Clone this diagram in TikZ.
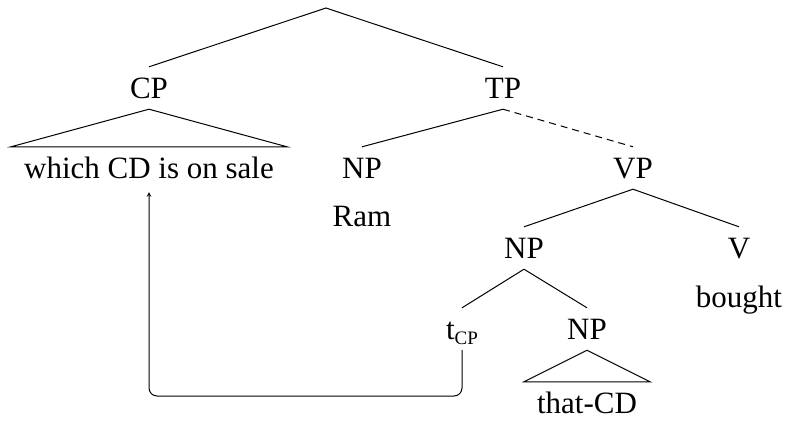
\documentclass[tikz,border=0pt]{standalone}
\usepackage{fontspec}
\setmainfont{Liberation Serif}
\usetikzlibrary{arrows}
\tikzstyle{cat} = [inner xsep=2pt, inner ysep=11pt, text height=20pt, text depth=0pt, font=\fontsize{31}{36}\selectfont]
\tikzstyle{roof} = [cat, inner xsep=13pt]
\tikzstyle{branch} = [line width=1pt]
\tikzstyle{arrow} = [line width=1pt,->,>=stealth, rounded corners=8pt, shorten >=3pt]

\begin{document}
\begin{tikzpicture}[x=1pt, y=-1pt, node distance=80pt]
\useasboundingbox (0,0) rectangle (787,423);

%% NODES

\coordinate (root) at (326,8);
\node (cp) [cat] at (149,88) {CP};
\node (tp) [cat, right of=cp, node distance=354pt] {TP};
\node (which) [roof, below of=cp] {which CD is on sale};
\node (np1) [cat, right of=which, node distance=213pt] {NP};
\node (ram) [cat, below of=np1, node distance=48pt] {Ram};
\node (vp) [cat, right of=np1, node distance=271pt] {VP};
\node (np2) [cat] at (524,248) {NP};
\node (v) [cat, right of=np2, node distance=215pt] {V};
\node (bought) [cat, below of=v, node distance=49pt] {bought};
\node (tcp) [cat] at (462,329) {t\raisebox{-5pt}{\fontsize{19}{19}\selectfont CP}};
\node (np3) [cat] at (587,329) {NP};
\node (thatcd) [roof, below of=np3, node distance=74pt] {that-CD};
\coordinate (low) at (0,396);

%% BRANCHES

\draw [branch] (cp.north) -- (root) -- (tp.north);
\draw [branch] (cp.south) -- (which.north west) -- (which.north east) -- cycle;
\draw [branch] (tp.south) -- (np1.north);
\draw [branch, dash pattern=on 7pt off 5pt] (tp.south) -- (vp.north);
\draw [branch] (np2.north) -- (vp.south) -- (v.north);
\draw [branch] (tcp.north) -- (np2.south) -- (np3.north);
\draw [branch] (np3.south) -- (thatcd.north west) -- (thatcd.north east) -- cycle;

%% MOVEMENT

\draw [arrow] (tcp.south) -- (tcp.south |- low) -- (which.south |- low) -- (which.south);

\end{tikzpicture}
\end{document}
